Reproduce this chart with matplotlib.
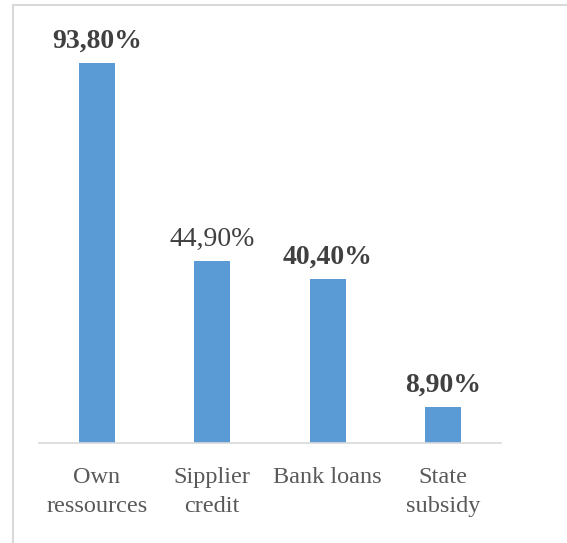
import matplotlib

matplotlib.use("Agg")
import matplotlib.pyplot as plt
from matplotlib.patches import Rectangle

categories = ["Own\nressources", "Sipplier\ncredit", "Bank loans", "State\nsubsidy"]
values = [93.8, 44.9, 40.4, 8.9]
labels = ["93,80%", "44,90%", "40,40%", "8,90%"]
label_weights = ["bold", "normal", "bold", "bold"]

plt.rcParams["font.family"] = ["Liberation Serif", "DejaVu Serif"]

W, H = 567, 543
fig = plt.figure(figsize=(W / 100, H / 100), dpi=100)

# chart frame (runs off the right and bottom edges)
fig.patches.append(Rectangle((13 / W, -0.1), 1.2, (H - 5) / H + 0.1,
                             transform=fig.transFigure, fill=False,
                             edgecolor="#D9D9D9", linewidth=1.5))

ax = fig.add_axes([39 / W, 100 / H, 462 / W, 405 / H])
x = range(len(categories))
ax.bar(x, values, width=0.31, color="#5B9BD5")
ax.set_xlim(-0.5, len(categories) - 0.5)
ax.set_ylim(0, 100)

for xi, v, lab, w in zip(x, values, labels, label_weights):
    ax.annotate(lab, (xi, v), xytext=(0, 16), textcoords="offset points",
                ha="center", va="center", fontsize=20, fontweight=w,
                color="#404040")

ax.set_xticks(list(x))
ax.set_xticklabels(categories, fontsize=17.5, color="#595959", linespacing=1.55)
ax.tick_params(axis="x", length=0, pad=17)
ax.set_yticks([])
for s in ["top", "right", "left"]:
    ax.spines[s].set_visible(False)
ax.spines["bottom"].set_color("#D9D9D9")
ax.spines["bottom"].set_linewidth(1.2)
ax.patch.set_alpha(0)

fig.savefig("out.png", dpi=100)
